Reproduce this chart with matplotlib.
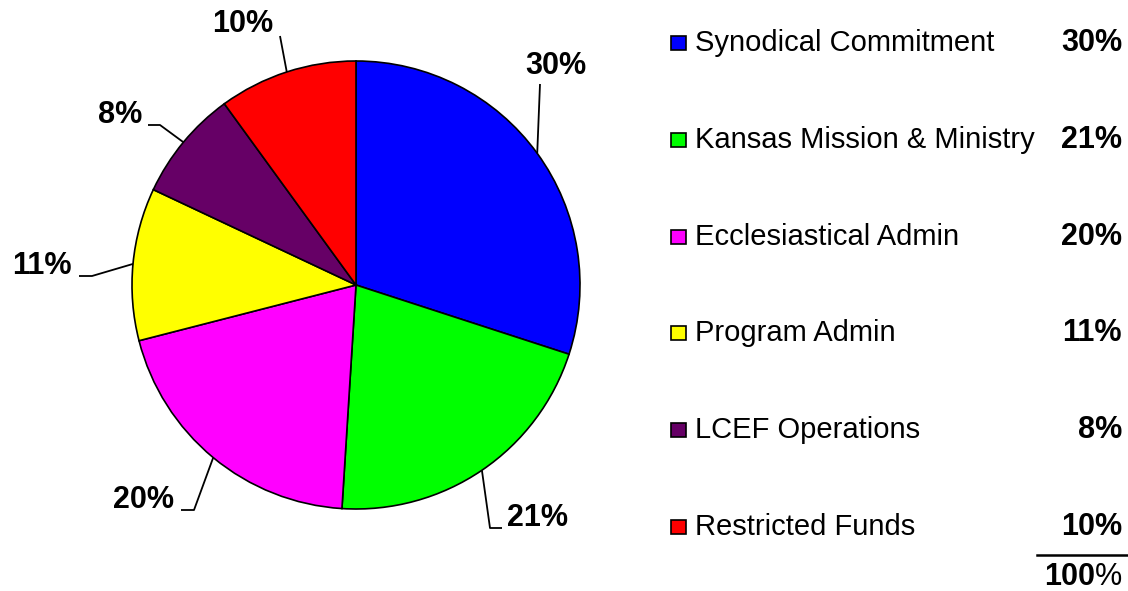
import numpy as np
import matplotlib.pyplot as plt
from matplotlib.patches import Rectangle

plt.rcParams['font.family'] = ['Liberation Sans', 'DejaVu Sans']

categories = ['Synodical Commitment', 'Kansas Mission & Ministry', 'Ecclesiastical Admin',
              'Program Admin', 'LCEF Operations', 'Restricted Funds']
shares = [30, 21, 20, 11, 8, 10]
colors = ['#0000FF', '#00FF00', '#FF00FF', '#FFFF00', '#660066', '#FF0000']
total_label = '100'

W, H = 1128, 591
cx, cy, R = 356, 285, 224

fig = plt.figure(figsize=(W / 100, H / 100), dpi=100)
ax = fig.add_axes([(cx - R) / W, (H - cy - R) / H, 2 * R / W, 2 * R / H])
wedges, _ = ax.pie(shares, colors=colors, startangle=90, counterclock=False,
                   wedgeprops=dict(edgecolor='black', linewidth=1.2))
ax.set_xlim(-1, 1)
ax.set_ylim(-1, 1)
ax.set_aspect('equal')
ax.axis('off')

# overlay in pixel coords
ov = fig.add_axes([0, 0, 1, 1])
ov.set_xlim(0, W)
ov.set_ylim(H, 0)
ov.axis('off')

# label layout: text centre, elbow, end of horizontal stub (pixels)
label_pos = [(556, 66), (537, 518), (143, 500), (42, 266), (120, 115), (243, 24)]
elbows = [(540, 84), (490, 528), (194, 510), (92, 276), (160, 125), (280, 36)]
stubs = [None, (502, 528), (181, 510), (79, 276), (148, 125), None]

for w, s, lp, el, st in zip(wedges, shares, label_pos, elbows, stubs):
    mid = np.deg2rad((w.theta1 + w.theta2) / 2)
    sx, sy = cx + R * np.cos(mid), cy - R * np.sin(mid)
    xs, ys = [sx, el[0]], [sy, el[1]]
    if st is not None:
        xs.append(st[0])
        ys.append(st[1])
    ov.plot(xs, ys, color='black', lw=1.3, solid_capstyle='butt')
    ov.text(lp[0], lp[1], f'{s}%', ha='center', va='center', fontsize=22,
            fontweight='bold')

# legend
row_y = [43, 140, 237, 333, 430, 527]
for name, s, c, y in zip(categories, shares, colors, row_y):
    ov.add_patch(Rectangle((671, y - 7), 15, 14, facecolor=c, edgecolor='black', lw=1.2))
    ov.text(695, y, name, ha='left', va='center', fontsize=21)
    ov.text(1122, y, f'{s}%', ha='right', va='center', fontsize=22, fontweight='bold')

ov.plot([1037, 1128], [555, 555], color='black', lw=1.8)
pct = ov.text(1122, 577, '%', ha='right', va='center', fontsize=22)
fig.canvas.draw()
pw = pct.get_window_extent().width
ov.text(1122 - pw, 577, total_label, ha='right', va='center', fontsize=22, fontweight='bold')

fig.savefig('out.png', dpi=100)
